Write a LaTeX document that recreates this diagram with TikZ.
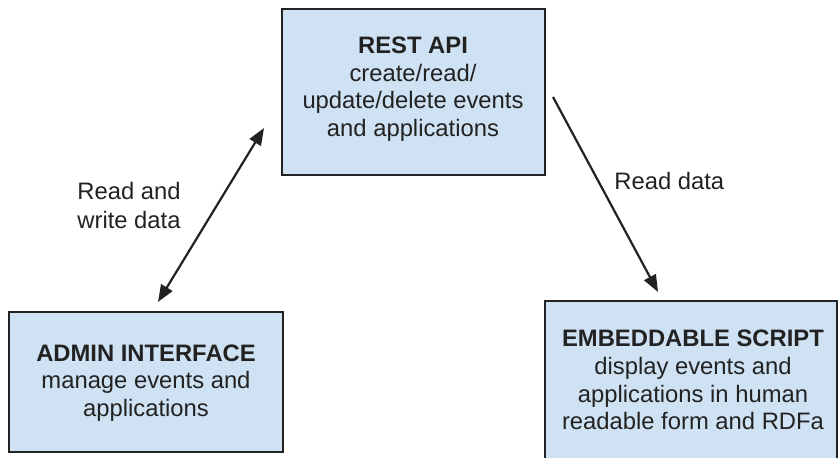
\documentclass[tikz,border=0pt]{standalone}
\usepackage{fontspec}
\setmainfont{Liberation Sans}
\usetikzlibrary{arrows.meta}
\definecolor{boxfill}{HTML}{CFE2F3}
\definecolor{boxline}{HTML}{222222}
\definecolor{txt}{HTML}{222222}
\tikzset{
  box/.style={draw=boxline, line width=1pt, fill=boxfill, rectangle, inner sep=0pt},
  boxtext/.style={align=center, text=txt, font=\fontsize{11.9pt}{13.8pt}\selectfont, inner sep=0pt},
  lbl/.style={align=left, text=txt, font=\fontsize{11.9pt}{14.5pt}\selectfont, inner sep=0pt, anchor=west},
  conn/.style={line width=1.1pt, draw=boxline},
  myarr/.tip={Triangle[length=8.5pt,width=6.5pt]}
}
\begin{document}
\begin{tikzpicture}[x=0.5pt,y=-0.5pt]
\useasboundingbox (0,0) rectangle (839,457);
\node[box, minimum width=131.5pt, minimum height=83pt] (rest) at (413.5,92) {};
\node[boxtext] (resttext) at (413,89) {\textbf{REST API}\\create/read/\\update/delete events\\and applications};
\node[box, minimum width=137pt, minimum height=70pt] (admin) at (146,382) {};
\node[boxtext] (admintext) at (146,383) {\textbf{ADMIN INTERFACE}\\manage events and\\applications};
\node[box, minimum width=146pt, minimum height=79.5pt] (embed) at (691,380.5) {};
\node[boxtext] (embedtext) at (693,380) {\textbf{EMBEDDABLE SCRIPT}\\display events and\\applications in human\\readable form and RDFa};
\coordinate (a1) at (158,302);
\coordinate (a2) at (264,128);
\coordinate (b1) at (553,97);
\coordinate (b2) at (658,292);
\draw[conn, myarr-myarr] (a1) -- (a2);
\draw[conn, -myarr] (b1) -- (b2);
\node[lbl] (l1) at (77,205) {Read and\\write data};
\node[lbl] (l2) at (614,181) {Read data};
\end{tikzpicture}
\end{document}
